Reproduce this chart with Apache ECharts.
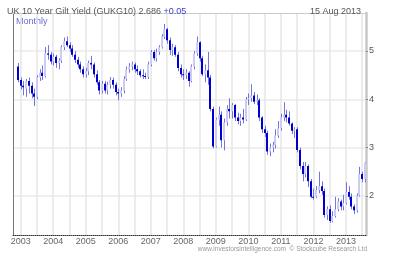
<!DOCTYPE html>
<html><head><meta charset="utf-8">
<script src="https://cdn.jsdelivr.net/npm/echarts@6/dist/echarts.min.js"></script>
<style>html,body{margin:0;padding:0;background:#fff}#c{width:400px;height:255px}</style>
</head><body><div id="c"></div>
<script>
// Monthly bars, Dec 2002 .. Aug 2013
const startYear = 2002, startMonth = 12;
const openV = [4.68,
 4.40,4.28,4.22,4.38,4.28,4.12,4.05,4.45,4.55,4.48,4.95,4.92,
 4.78,4.88,4.75,4.80,5.08,5.20,5.12,5.05,4.92,4.82,4.72,4.62,
 4.52,4.58,4.75,4.72,4.52,4.35,4.18,4.32,4.18,4.30,4.40,4.30,
 4.15,4.12,4.18,4.42,4.62,4.68,4.72,4.62,4.58,4.50,4.48,4.46,
 4.72,4.98,4.85,4.98,5.08,5.30,5.45,5.22,5.02,5.08,4.92,4.65,
 4.52,4.50,4.55,4.38,4.68,4.95,5.18,4.85,4.52,4.60,4.45,3.80,
 3.02,3.58,3.68,3.15,3.52,3.80,3.75,3.88,3.62,3.55,3.62,3.58,
 4.00,4.02,4.08,3.95,3.98,3.62,3.38,3.30,2.92,3.00,3.05,3.25,
 3.40,3.62,3.68,3.62,3.50,3.35,3.38,2.95,2.62,2.45,2.62,2.30,
 1.98,1.98,2.12,2.20,2.10,1.60,1.72,1.48,1.58,1.72,1.88,1.78,
 1.85,2.08,1.98,1.78,1.70,2.00,2.45,2.35];
const closeV = [4.40,
 4.28,4.25,4.38,4.28,4.12,4.05,4.45,4.55,4.48,4.95,4.92,4.78,
 4.88,4.75,4.80,5.08,5.20,5.12,5.05,4.92,4.82,4.72,4.62,4.52,
 4.58,4.75,4.72,4.52,4.35,4.18,4.32,4.18,4.30,4.40,4.30,4.15,
 4.12,4.18,4.42,4.62,4.68,4.72,4.62,4.58,4.50,4.48,4.46,4.72,
 4.98,4.85,4.98,5.08,5.30,5.45,5.22,5.02,5.08,4.92,4.65,4.52,
 4.50,4.55,4.38,4.68,4.95,5.18,4.85,4.52,4.60,4.45,3.80,3.02,
 3.58,3.68,3.15,3.52,3.80,3.75,3.88,3.62,3.55,3.62,3.58,4.00,
 4.02,4.08,3.95,3.98,3.62,3.38,3.30,2.92,3.00,3.05,3.25,3.40,
 3.62,3.68,3.62,3.50,3.35,3.38,2.95,2.62,2.45,2.62,2.30,1.98,
 1.97,2.12,2.20,2.10,1.60,1.72,1.48,1.58,1.72,1.88,1.78,1.85,
 2.08,1.98,1.78,1.70,2.00,2.45,2.35,2.686];
const lowV = [4.35,
 4.20,4.08,4.05,4.12,4.02,3.86,4.00,4.38,4.40,4.45,4.82,4.72,
 4.70,4.65,4.62,4.75,5.02,5.08,4.98,4.88,4.75,4.65,4.55,4.45,
 4.45,4.50,4.62,4.45,4.30,4.10,4.12,4.12,4.10,4.22,4.22,4.08,
 3.98,4.05,4.12,4.38,4.55,4.60,4.55,4.50,4.45,4.42,4.42,4.42,
 4.68,4.80,4.78,4.92,5.05,5.25,5.15,4.92,4.90,4.88,4.58,4.45,
 4.40,4.42,4.26,4.35,4.62,4.90,4.78,4.48,4.35,4.30,3.75,2.98,
 3.00,3.45,3.00,2.94,3.45,3.60,3.60,3.55,3.48,3.45,3.50,3.55,
 3.88,3.95,3.90,3.88,3.55,3.30,3.22,2.85,2.82,2.90,2.98,3.20,
 3.35,3.55,3.52,3.45,3.28,3.20,2.90,2.55,2.30,2.38,2.18,1.95,
 1.92,1.95,2.05,2.02,1.55,1.50,1.44,1.45,1.55,1.68,1.70,1.70,
 1.82,1.92,1.72,1.62,1.65,1.98,2.28,2.28];
const highV = [4.75,
 4.45,4.38,4.42,4.45,4.35,4.22,4.50,4.62,4.70,5.08,5.12,4.98,
 4.95,4.92,4.85,5.12,5.28,5.30,5.18,5.12,5.00,4.88,4.78,4.68,
 4.65,4.80,4.90,4.76,4.60,4.40,4.38,4.38,4.36,4.46,4.45,4.35,
 4.22,4.25,4.48,4.68,4.75,4.78,4.76,4.70,4.62,4.62,4.55,4.78,
 5.02,5.02,5.05,5.12,5.35,5.56,5.48,5.28,5.15,5.12,4.98,4.72,
 4.62,4.62,4.58,4.72,5.00,5.30,5.20,4.90,4.72,4.98,4.50,3.85,
 3.62,3.85,3.75,3.60,3.88,4.02,3.92,3.90,3.72,3.70,3.80,4.05,
 4.12,4.31,4.15,4.10,4.02,3.65,3.45,3.35,3.08,3.12,3.38,3.55,
 3.70,3.94,3.78,3.75,3.52,3.42,3.42,3.00,2.70,2.70,2.65,2.35,
 2.15,2.20,2.50,2.30,2.15,1.78,1.80,1.68,1.98,1.95,1.92,2.02,
 2.28,2.20,2.05,1.82,2.05,2.60,2.50,2.70];
const yTicks = [2, 3, 4, 5];
const yearLabels = ['2003','2004','2005','2006','2007','2008','2009','2010','2011','2012','2013'];

// month index relative to Jan 2003
const monthIdx = openV.map((_, i) => (startYear - 2003) * 12 + (startMonth - 1) + i);
const rows = monthIdx.map((m, i) => [m, openV[i], closeV[i], lowV[i], highV[i]]);
const yearTickVals = yearLabels.map((_, i) => i * 12);
const gridTickVals = [];
for (let k = 0; k <= 21; k++) gridTickVals.push(k * 6);

const chart = echarts.init(document.getElementById('c'), null, {renderer: 'canvas'});
const F = 'Liberation Sans, Arial, sans-serif';

function renderItem(params, api) {
  const x = api.value(0), o = api.value(1), c = api.value(2), l = api.value(3), h = api.value(4);
  const pH = api.coord([x, h]), pL = api.coord([x, l]);
  const pO = api.coord([x, o]), pC = api.coord([x, c]);
  const cx = Math.round(pH[0]);
  const top = Math.min(pO[1], pC[1]), bot = Math.max(pO[1], pC[1]);
  const up = c >= o;
  return {
    type: 'group',
    children: [
      {type: 'line', shape: {x1: cx + 0.5, y1: pH[1], x2: cx + 0.5, y2: pL[1]},
       style: {stroke: '#7474e2', lineWidth: 1}},
      {type: 'rect', shape: {x: cx - 1, y: top, width: 2, height: Math.max(1, bot - top)},
       style: {fill: up ? '#cbcbf3' : '#0000cc'}}
    ]
  };
}

chart.setOption({
  animation: false,
  backgroundColor: '#ffffff',
  title: [
    {text: '{a|UK 10 Year Gilt Yield (GUKG10) 2.686 }{b|+0.05}', left: 2, top: 2,
     textStyle: {fontWeight: 'normal', rich: {
       a: {fontSize: 9, color: '#555', fontWeight: 'normal', fontFamily: F},
       b: {fontSize: 9, color: '#3a3acc', fontWeight: 'normal', fontFamily: F}}}},
    {text: '15 Aug 2013', right: 34, top: 2, textStyle: {fontSize: 9, color: '#555', fontWeight: 'normal', fontFamily: F}}
  ],
  graphic: [
    {type: 'text', left: 16, top: 17, style: {text: 'Monthly', fontSize: 9, fill: '#6a6ad6', fontFamily: F}},
    {type: 'text', right: 33, top: 246, style: {text: 'www.investorsintelligence.com  \u00a9 Stockcube Research Ltd', fontSize: 6.5, fill: '#999', fontFamily: F}}
  ],
  grid: {left: 13, right: 34, top: 13, bottom: 20},
  xAxis: [
    {type: 'value', min: -2.85, max: 127.4, position: 'bottom',
     axisLine: {show: true, onZero: false, lineStyle: {color: '#333', type: 'dotted', width: 1}},
     axisTick: {show: false, customValues: gridTickVals},
     splitLine: {show: true, lineStyle: {color: '#e6e6e6', width: 1.5}},
     axisLabel: {customValues: yearTickVals, formatter: v => yearLabels[Math.round(v / 12)], fontSize: 9, color: '#666', margin: 2, fontFamily: F}},
    {type: 'value', min: -2.85, max: 127.4, position: 'top',
     axisLine: {show: true, onZero: false, lineStyle: {color: '#ccc', width: 1}},
     axisTick: {show: false}, axisLabel: {show: false}, splitLine: {show: false}}
  ],
  yAxis: [
    {type: 'value', min: 1.188, max: 5.787, position: 'right',
     axisLine: {show: true, onZero: false, lineStyle: {color: '#c8c8c8', width: 2.5}},
     axisTick: {show: true, customValues: yTicks, length: 2, lineStyle: {color: '#888'}},
     splitLine: {show: true, lineStyle: {color: '#ebebeb', width: 1.5}},
     axisLabel: {customValues: yTicks, fontSize: 9, color: '#555', margin: 3, fontFamily: F}},
    {type: 'value', min: 1.188, max: 5.787, position: 'left',
     axisLine: {show: true, onZero: false, lineStyle: {color: '#777', width: 1}},
     axisTick: {show: false}, axisLabel: {show: false}, splitLine: {show: false}}
  ],
  series: [{
    type: 'custom', renderItem: renderItem, xAxisIndex: 0, yAxisIndex: 0,
    encode: {x: 0, y: [1, 2, 3, 4]}, data: rows, clip: true
  }]
});
</script></body></html>
